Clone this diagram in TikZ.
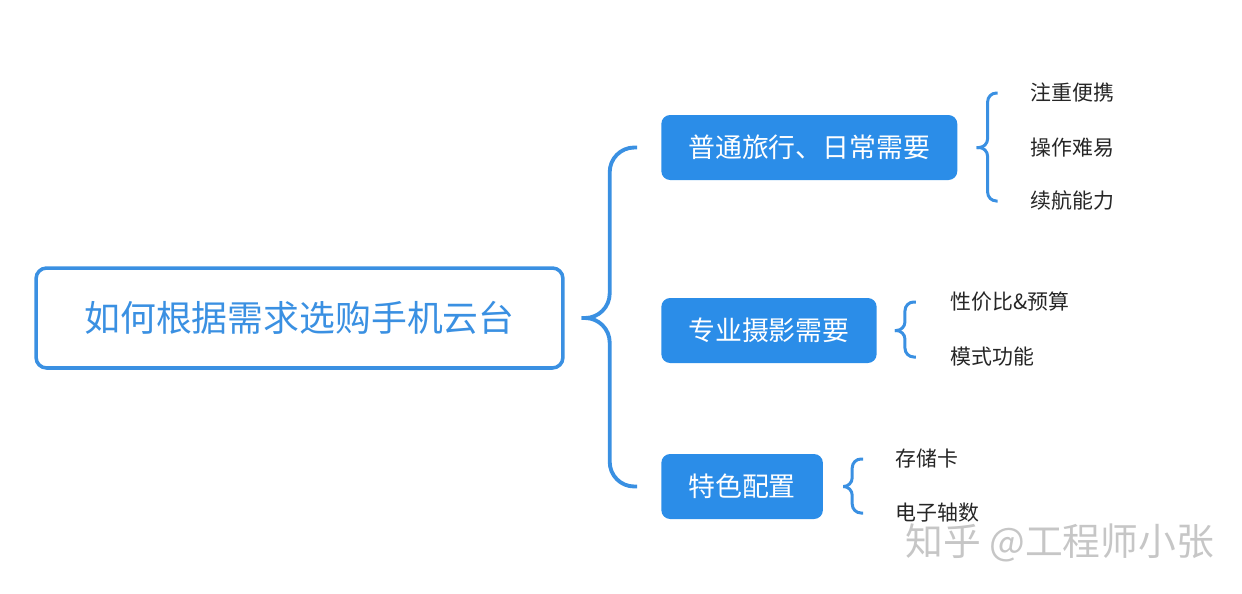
\documentclass[tikz,border=0pt]{standalone}
\usepackage{fontspec}
\setmainfont{Noto Sans CJK SC}
\usetikzlibrary{positioning, calc}
\definecolor{blueA}{HTML}{2B8DE8}
\definecolor{blueB}{HTML}{3A90E2}
\definecolor{inkG}{HTML}{262626}
\definecolor{markG}{HTML}{C6C6C6}

\begin{document}
\begin{tikzpicture}[
  x=0.02cm, y=-0.02cm,
  rootbox/.style={
    draw=blueB, fill=white, text=blueB,
    font=\fontsize{20.4}{24}\selectfont,
    minimum width=10.54cm, minimum height=2cm,
    rounded corners=6pt, line width=2pt
  },
  catbox/.style={
    fill=blueA, text=white,
    font=\fontsize{15.3}{18}\selectfont,
    minimum height=1.3cm, inner xsep=0.54cm,
    rounded corners=5pt, anchor=west
  },
  leaf/.style={
    text=inkG, font=\fontsize{11.9}{14}\selectfont,
    inner sep=0pt, anchor=west
  },
  brace/.style={draw=blueB, line width=1.7pt, rounded corners=#1},
  brace/.default=5pt
]
\useasboundingbox (0,0) rectangle (1242,593);

%% root and categories
\node[rootbox] (root) at (299.5,318) {如何根据需求选购手机云台};

\node[catbox] (b1) at (661,147.5) {普通旅行、日常需要};
\node[catbox] (b2) at (661,330.5) {专业摄影需要};
\node[catbox] (b3) at (661,486.5) {特色配置};

\coordinate (k0) at ($(root.east)+(45,0)$);
\draw[brace=14pt, line width=2.2pt] ($(root.east)+(17,0)$) -- (k0) |- ($(b1.west)+(-24,0)$);
\draw[brace=14pt, line width=2.2pt] ($(root.east)+(17,0)$) -- (k0) |- ($(b3.west)+(-24,0)$);

%% leaves of b1
\node[leaf] (l11) at (1030,93) {注重便携};
\node[leaf] (l12) at (1030,148) {操作难易};
\node[leaf] (l13) at (1030,201) {续航能力};

\coordinate (k1) at ($(b1.east)+(30,0)$);
\coordinate (e1) at ($(b1.east)+(40,0)$);
\draw[brace] ($(b1.east)+(19,0)$) -- (k1) |- (e1 |- l11);
\draw[brace] ($(b1.east)+(19,0)$) -- (k1) |- (e1 |- l13);

%% leaves of b2
\node[leaf] (l21) at (950,302) {性价比\&预算};
\node[leaf] (l22) at (950,357) {模式功能};

\coordinate (k2) at ($(b2.east)+(28,0)$);
\coordinate (e2) at ($(b2.east)+(39,0)$);
\draw[brace] ($(b2.east)+(18,0)$) -- (k2) |- (e2 |- l21);
\draw[brace] ($(b2.east)+(18,0)$) -- (k2) |- (e2 |- l22);

%% leaves of b3
\node[leaf] (l31) at (895,459) {存储卡};
\node[leaf] (l32) at (895,513) {电子轴数};

\coordinate (k3) at ($(b3.east)+(29,0)$);
\coordinate (e3) at ($(b3.east)+(40,0)$);
\draw[brace] ($(b3.east)+(20,0)$) -- (k3) |- (e3 |- l31);
\draw[brace] ($(b3.east)+(20,0)$) -- (k3) |- (e3 |- l32);

%% watermark
\node[anchor=west, inner sep=0pt, text=markG, font=\fontsize{21.5}{26}\selectfont] (mark) at (905,543) {知乎 @工程师小张};

\end{tikzpicture}
\end{document}
